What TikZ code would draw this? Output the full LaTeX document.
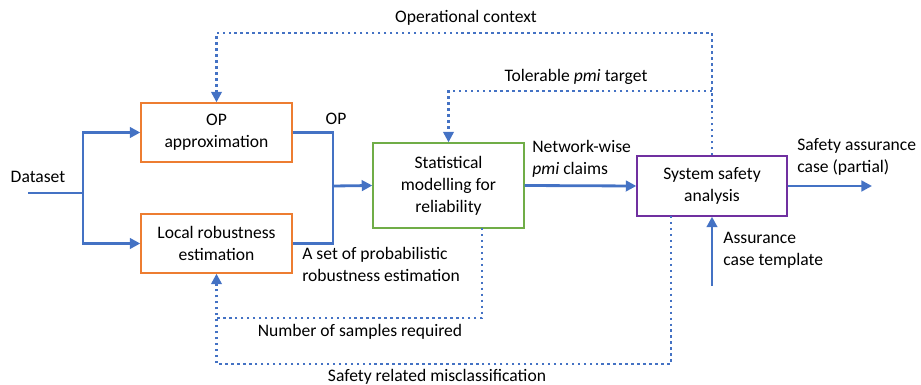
\documentclass[tikz,border=0pt]{standalone}
\usepackage{fontspec}
\setmainfont{Carlito}
\usetikzlibrary{arrows.meta}
\definecolor[named]{BoxOrange}{RGB}{237,125,49}
\definecolor[named]{BoxGreen}{RGB}{112,173,71}
\definecolor[named]{BoxPurple}{RGB}{112,48,160}
\definecolor[named]{FlowBlue}{RGB}{68,114,196}
\tikzset{dgp/.style={
  x=0.02cm,
  y=-0.02cm,
  font=\fontsize{10}{12.5}\selectfont
}}
\tikzset{blk/.style={
  draw,
  fill=white,
  shape=rectangle,
  line width=0.8pt,
  align=center,
  inner sep=2pt
}}
\tikzset{txt/.style={
  align=left,
  inner sep=0pt
}}
\tikzset{flow/.style={
  FlowBlue,
  line width=1.6pt
}}
\tikzset{fb/.style={
  FlowBlue,
  line width=1.4pt,
  dotted
}}
\tikzset{tip/.style={
  -{Triangle[length=6pt,width=6pt]}
}}

\begin{document}
\begin{tikzpicture}[dgp]

    \useasboundingbox (0,0) rectangle (921,385);

    %% Blocks

    \node[blk,draw=BoxOrange,minimum width=3.02cm,minimum height=1.18cm]
      (op) at (216.5,132.5) {OP\\approximation};
    \node[blk,draw=BoxOrange,minimum width=3.02cm,minimum height=1.18cm]
      (lr) at (216.5,243.5) {Local robustness\\estimation};
    \node[blk,draw=BoxGreen,minimum width=3.02cm,minimum height=1.7cm]
      (stat) at (448.5,185.5) {Statistical\\modelling for\\reliability};
    \node[blk,draw=BoxPurple,minimum width=3.0cm,minimum height=1.2cm]
      (sys) at (712,186) {System safety\\analysis};

    %% Labels

    \node[txt] (dset) at (38,177) {Dataset};
    \node[txt] (oplab) at (336,119) {OP};
    \node[txt,anchor=west] (prlab) at (302,264)
      {A set of probabilistic\\robustness estimation};
    \node[txt,anchor=west] (nwlab) at (532,159)
      {Network-wise\\\textit{pmi} claims};
    \node[txt,anchor=west] (salab) at (797,157)
      {Safety assurance\\case (partial)};
    \node[txt,anchor=west] (aclab) at (723,250)
      {Assurance\\case template};
    \node[txt] (oclab) at (466,18) {Operational context};
    \node[txt] (tplab) at (576,77) {Tolerable \textit{pmi} target};
    \node[txt] (nslab) at (360,332) {Number of samples required};
    \node[txt] (smlab) at (437,377) {Safety related misclassification};

    %% Solid flows

    \coordinate (din) at (28,193);
    \coordinate (split) at (83,193);
    \coordinate (join) at (333,186);
    \coordinate (sout) at (872,186);
    \coordinate (tin) at (712,286);

    \draw[flow] (din) -- (split);
    \draw[flow,tip] (split) |- (op.west);
    \draw[flow,tip] (split) |- (lr.west);
    \draw[flow] (op.east) -| (join) |- (lr.east);
    \draw[flow,tip] (join) -- (stat.west);
    \draw[flow,tip] (stat.east) -- (sys.west);
    \draw[flow,tip] (sys.east) -- (sout);
    \draw[flow,tip] (tin) -- (sys.south);

    %% Dotted feedback

    \coordinate (octop) at (712,33);
    \coordinate (tpbr) at (712,91);
    \coordinate (nsfrom) at (482,228);
    \coordinate (nsbot) at (482,318);
    \coordinate (smfrom) at (671,216);
    \coordinate (smbot) at (671,364);

    \draw[fb,tip] (sys.north) -- (octop) -| (op.north);
    \draw[fb,tip] (tpbr) -| (stat.north);
    \draw[fb,tip] (nsfrom) -- (nsbot) -| (lr.south);
    \draw[fb] (smfrom) -- (smbot) -| (lr.south);

  \end{tikzpicture}
\end{document}
